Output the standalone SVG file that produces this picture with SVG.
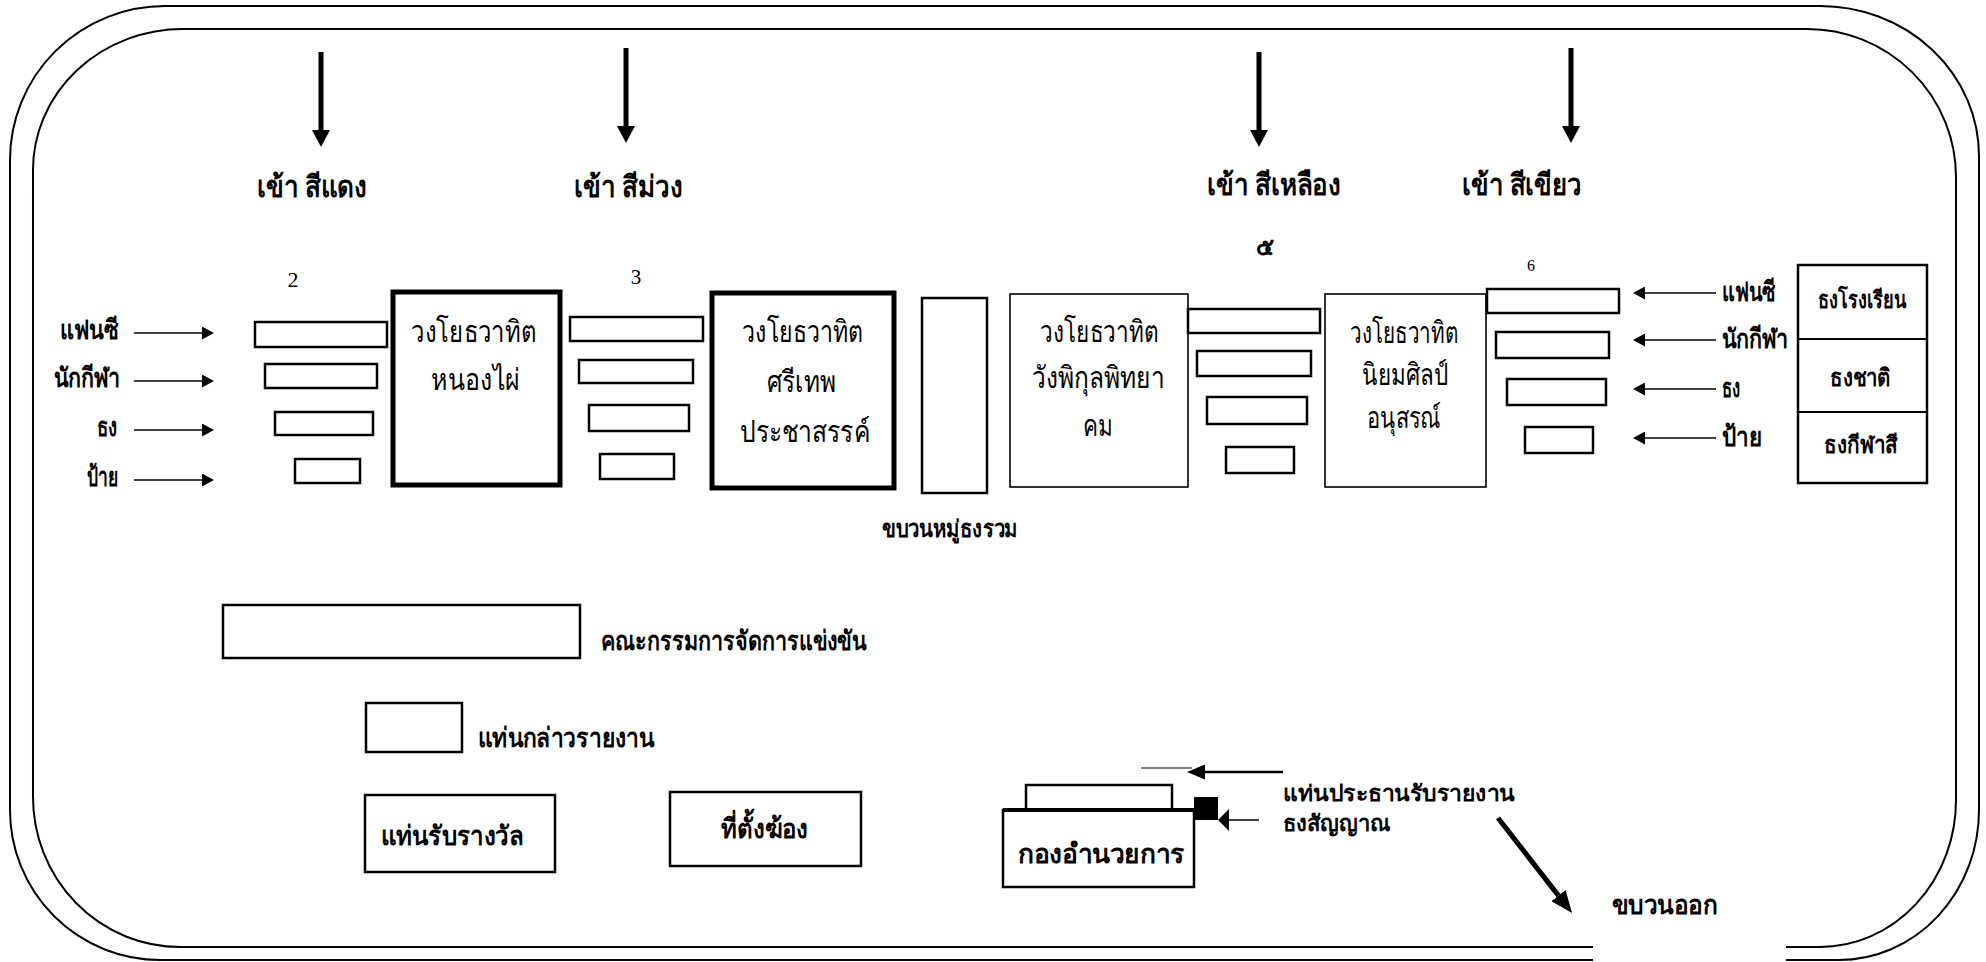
<svg xmlns="http://www.w3.org/2000/svg" width="1986" height="962" viewBox="0 0 1986 962">
<style>
.bd{fill:none;stroke:#000;stroke-width:2}
.bx{fill:#fff;stroke:#000;stroke-width:2.5}
.thk{fill:#fff;stroke:#000;stroke-width:5}
.thn{fill:#fff;stroke:#000;stroke-width:1.6}
.ln{fill:none;stroke:#000}
.t{font-family:"Noto Sans",sans-serif;font-weight:bold;fill:#000}
.lb{font-size:30px}
.sm{font-size:27px}
.xs{font-size:24px}
.cp{font-size:22px}
.bt{font-family:"Noto Serif","Liberation Serif",serif;font-weight:normal;font-size:30px;fill:#000}
.num{font-family:"Liberation Serif",serif;fill:#000;text-anchor:middle}
</style>
<defs>
<marker id="hd" markerUnits="userSpaceOnUse" viewBox="0 0 17 18" markerWidth="17" markerHeight="18" refX="0" refY="9" orient="auto"><path d="M0,0L17,9L0,18z" fill="#000"/></marker>
<marker id="hs" markerUnits="userSpaceOnUse" viewBox="0 0 12 13" markerWidth="12" markerHeight="13" refX="0" refY="6.5" orient="auto"><path d="M0,0L12,6.5L0,13z" fill="#000"/></marker>
<marker id="hd2" markerUnits="userSpaceOnUse" viewBox="0 0 22 18" markerWidth="22" markerHeight="18" refX="0" refY="9" orient="auto"><path d="M0,0L22,9L0,18z" fill="#000"/></marker>
<marker id="hm" markerUnits="userSpaceOnUse" viewBox="0 0 18 15" markerWidth="18" markerHeight="15" refX="0" refY="7.5" orient="auto"><path d="M0,0L18,7.5L0,15z" fill="#000"/></marker>
<marker id="hf" markerUnits="userSpaceOnUse" viewBox="0 0 11 22" markerWidth="11" markerHeight="22" refX="0" refY="11" orient="auto"><path d="M0,0L11,11L0,22z" fill="#000"/></marker>
</defs>
<rect width="1986" height="962" fill="#fff"/>
<g id="border">
<path class="bd" d="M1593,960 L160,960 A150,150 0 0 1 10,810 L10,160 A155,154 0 0 1 165,6 L1820,6 A159,150 0 0 1 1979,156 L1979,810 A140,150 0 0 1 1839,960 L1786,960"/>
<path class="bd" d="M1593,947 L180,947 A147,150 0 0 1 33,797 L33,170 A150,141 0 0 1 183,29 L1807,29 A149,148 0 0 1 1956,177 L1956,800 A136,147 0 0 1 1820,947 L1786,947"/>
</g>
<g id="connectors">
<line class="ln" stroke-width="5" x1="321" y1="52" x2="321" y2="130" marker-end="url(#hd)"/>
<line class="ln" stroke-width="5" x1="626" y1="48" x2="626" y2="126" marker-end="url(#hd)"/>
<line class="ln" stroke-width="5" x1="1259" y1="52" x2="1259" y2="130" marker-end="url(#hd)"/>
<line class="ln" stroke-width="5" x1="1571" y1="48" x2="1571" y2="126" marker-end="url(#hd)"/>
<line class="ln" stroke-width="1.5" x1="134" y1="333" x2="202" y2="333" marker-end="url(#hs)"/>
<line class="ln" stroke-width="1.5" x1="134" y1="381" x2="202" y2="381" marker-end="url(#hs)"/>
<line class="ln" stroke-width="1.5" x1="134" y1="430" x2="202" y2="430" marker-end="url(#hs)"/>
<line class="ln" stroke-width="1.5" x1="134" y1="480" x2="202" y2="480" marker-end="url(#hs)"/>
<line class="ln" stroke-width="1.5" x1="1716" y1="293" x2="1645" y2="293" marker-end="url(#hs)"/>
<line class="ln" stroke-width="1.5" x1="1716" y1="340" x2="1645" y2="340" marker-end="url(#hs)"/>
<line class="ln" stroke-width="1.5" x1="1716" y1="389" x2="1645" y2="389" marker-end="url(#hs)"/>
<line class="ln" stroke-width="1.5" x1="1716" y1="438" x2="1645" y2="438" marker-end="url(#hs)"/>
<line class="ln" stroke-width="1.2" x1="1141" y1="768" x2="1192" y2="768"/>
<line class="ln" stroke-width="2.5" x1="1283" y1="772" x2="1205" y2="772" marker-end="url(#hm)"/>
<line class="ln" stroke-width="1.5" x1="1259" y1="820" x2="1229" y2="820" marker-end="url(#hf)"/>
<line class="ln" stroke-width="5" x1="1498" y1="818" x2="1558.5" y2="895.6" marker-end="url(#hd2)"/>
</g>
<g id="entry-red"><text class="t lb" x="257" y="197" textLength="110" lengthAdjust="spacingAndGlyphs">เข้า สีแดง</text></g>
<g id="entry-purple"><text class="t lb" x="574" y="197" textLength="109" lengthAdjust="spacingAndGlyphs">เข้า สีม่วง</text></g>
<g id="entry-yellow"><text class="t lb" x="1207" y="195" textLength="134" lengthAdjust="spacingAndGlyphs">เข้า สีเหลือง</text></g>
<g id="entry-green"><text class="t lb" x="1462" y="195" textLength="120" lengthAdjust="spacingAndGlyphs">เข้า สีเขียว</text></g>
<g id="num-2"><text class="num" x="293" y="287" font-size="22">2</text></g>
<g id="num-3"><text class="num" x="636" y="284" font-size="21">3</text></g>
<g id="num-5"><text class="t" x="1265" y="255" font-size="24" text-anchor="middle">๕</text></g>
<g id="num-6"><text class="num" x="1531" y="271" font-size="16">6</text></g>
<g id="left-labels">
<text class="t sm" x="60" y="339" textLength="58" lengthAdjust="spacingAndGlyphs">แฟนซี</text>
<text class="t sm" x="54" y="387" textLength="66" lengthAdjust="spacingAndGlyphs">นักกีฬา</text>
<text class="t sm" x="97" y="436" textLength="20" lengthAdjust="spacingAndGlyphs">ธง</text>
<text class="t sm" x="87" y="486" textLength="31" lengthAdjust="spacingAndGlyphs">ป้าย</text>
</g>
<g id="group2-rows">
<rect class="bx" x="255" y="322" width="132" height="25"/>
<rect class="bx" x="265" y="364" width="112" height="24"/>
<rect class="bx" x="275" y="412" width="98" height="23"/>
<rect class="bx" x="295" y="459" width="65" height="24"/>
</g>
<g id="band-nongphai">
<rect class="thk" x="393" y="292" width="167" height="193"/>
<text class="bt" x="411" y="342" textLength="125" lengthAdjust="spacingAndGlyphs">วงโยธวาทิต</text>
<text class="bt" x="431" y="390" textLength="89" lengthAdjust="spacingAndGlyphs">หนองไผ่</text>
</g>
<g id="group3-rows">
<rect class="bx" x="570" y="317" width="133" height="24"/>
<rect class="bx" x="579" y="360" width="114" height="23"/>
<rect class="bx" x="589" y="405" width="100" height="26"/>
<rect class="bx" x="600" y="454" width="74" height="25"/>
</g>
<g id="band-srithep">
<rect class="thk" x="712" y="293" width="182" height="195"/>
<text class="bt" x="742" y="342" textLength="121" lengthAdjust="spacingAndGlyphs">วงโยธวาทิต</text>
<text class="bt" x="767" y="392" textLength="69" lengthAdjust="spacingAndGlyphs">ศรีเทพ</text>
<text class="bt" x="740" y="442" textLength="130" lengthAdjust="spacingAndGlyphs">ประชาสรรค์</text>
</g>
<g id="combined-flags">
<rect class="bx" x="922" y="298" width="65" height="195"/>
<text class="t xs" x="882" y="537" textLength="136" lengthAdjust="spacingAndGlyphs">ขบวนหมู่ธงรวม</text>
</g>
<g id="band-wangpikul">
<rect class="thn" x="1010" y="294" width="178" height="193"/>
<text class="bt" x="1040" y="342" textLength="118" lengthAdjust="spacingAndGlyphs">วงโยธวาทิต</text>
<text class="bt" x="1032" y="388" textLength="133" lengthAdjust="spacingAndGlyphs">วังพิกุลพิทยา</text>
<text class="bt" x="1083" y="436" textLength="30" lengthAdjust="spacingAndGlyphs">คม</text>
</g>
<g id="group5-rows">
<rect class="bx" x="1188" y="309" width="132" height="24"/>
<rect class="bx" x="1197" y="351" width="114" height="25"/>
<rect class="bx" x="1207" y="397" width="100" height="27"/>
<rect class="bx" x="1226" y="447" width="68" height="26"/>
</g>
<g id="band-niyomsilp">
<rect class="thn" x="1325" y="294" width="161" height="193"/>
<text class="bt" x="1350" y="343" textLength="108" lengthAdjust="spacingAndGlyphs">วงโยธวาทิต</text>
<text class="bt" x="1362" y="385" textLength="86" lengthAdjust="spacingAndGlyphs">นิยมศิลป์</text>
<text class="bt" x="1367" y="428" textLength="74" lengthAdjust="spacingAndGlyphs">อนุสรณ์</text>
</g>
<g id="group6-rows">
<rect class="bx" x="1487" y="289" width="132" height="24"/>
<rect class="bx" x="1496" y="332" width="113" height="26"/>
<rect class="bx" x="1507" y="379" width="99" height="26"/>
<rect class="bx" x="1525" y="427" width="68" height="26"/>
</g>
<g id="right-labels">
<text class="t sm" x="1722" y="301" textLength="53" lengthAdjust="spacingAndGlyphs">แฟนซี</text>
<text class="t sm" x="1722" y="348" textLength="66" lengthAdjust="spacingAndGlyphs">นักกีฬา</text>
<text class="t sm" x="1722" y="397" textLength="18" lengthAdjust="spacingAndGlyphs">ธง</text>
<text class="t sm" x="1722" y="446" textLength="40" lengthAdjust="spacingAndGlyphs">ป้าย</text>
</g>
<g id="flag-stack">
<rect class="bx" x="1798" y="265" width="129" height="218"/>
<line class="ln" stroke-width="2" x1="1798" y1="339" x2="1927" y2="339"/>
<line class="ln" stroke-width="2" x1="1798" y1="412" x2="1927" y2="412"/>
<text class="t xs" x="1818" y="308" textLength="88" lengthAdjust="spacingAndGlyphs">ธงโรงเรียน</text>
<text class="t xs" x="1830" y="386" textLength="61" lengthAdjust="spacingAndGlyphs">ธงชาติ</text>
<text class="t xs" x="1824" y="453" textLength="74" lengthAdjust="spacingAndGlyphs">ธงกีฬาสี</text>
</g>
<g id="legend-committee">
<rect class="bx" x="223" y="605" width="357" height="53"/>
<text class="t sm" x="601" y="650" textLength="265" lengthAdjust="spacingAndGlyphs">คณะกรรมการจัดการแข่งขัน</text>
</g>
<g id="legend-report-podium">
<rect class="bx" x="366" y="703" width="96" height="49"/>
<text class="t sm" x="478" y="747" textLength="176" lengthAdjust="spacingAndGlyphs">แท่นกล่าวรายงาน</text>
</g>
<g id="award-podium">
<rect class="bx" x="365" y="795" width="190" height="77"/>
<text class="t sm" x="381" y="845" textLength="143" lengthAdjust="spacingAndGlyphs">แท่นรับรางวัล</text>
</g>
<g id="gong">
<rect class="bx" x="670" y="792" width="191" height="74"/>
<text class="t sm" x="721" y="838" textLength="87" lengthAdjust="spacingAndGlyphs">ที่ตั้งฆ้อง</text>
</g>
<g id="chairman-podium">
<rect class="bx" x="1026" y="785" width="146" height="25"/>
</g>
<g id="directorate">
<rect class="bx" x="1003" y="810" width="191" height="77"/>
<line class="ln" stroke-width="4" x1="1003" y1="810" x2="1194" y2="810"/>
<text class="t sm" x="1018" y="863" textLength="167" lengthAdjust="spacingAndGlyphs">กองอำนวยการ</text>
</g>
<g id="signal-flag">
<rect x="1194" y="797" width="24" height="23" fill="#000"/>
</g>
<g id="chairman-labels">
<text class="t cp" x="1283" y="801" textLength="232" lengthAdjust="spacingAndGlyphs">แท่นประธานรับรายงาน</text>
<text class="t cp" x="1283" y="831" textLength="107" lengthAdjust="spacingAndGlyphs">ธงสัญญาณ</text>
</g>
<g id="exit-label">
<text class="t sm" x="1612" y="914" textLength="105" lengthAdjust="spacingAndGlyphs">ขบวนออก</text>
</g>
</svg>
